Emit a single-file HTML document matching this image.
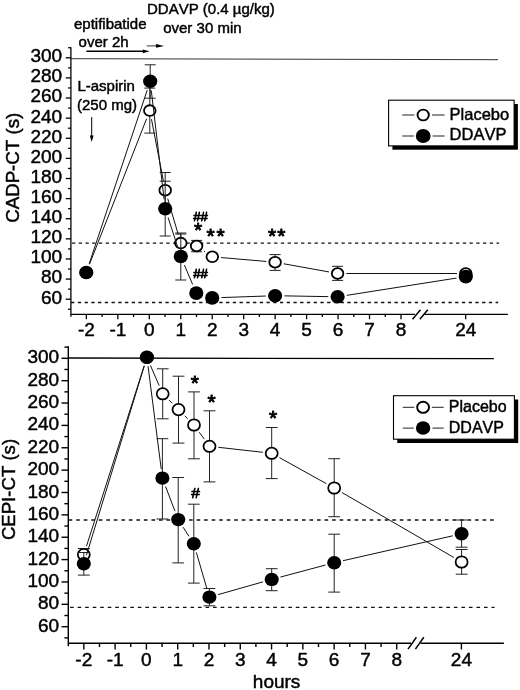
<!DOCTYPE html>
<html lang="en"><head><meta charset="utf-8"><title>CADP-CT and CEPI-CT after DDAVP vs placebo</title>
<style>html,body{margin:0;padding:0;background:#fff}svg{display:block;filter:blur(0.35px)}text{font-family:"Liberation Sans", sans-serif;fill:#000;stroke:#000;stroke-width:0.45px;stroke-linejoin:round;font-kerning:none}</style></head><body>
<svg width="520" height="690" viewBox="0 0 520 690">
<rect width="520" height="690" fill="#fff"/>
<line x1="70.90" y1="58.70" x2="498.00" y2="59.70" stroke="#333" stroke-width="1.0" />
<line x1="72.00" y1="243.10" x2="499.10" y2="243.10" stroke="#111" stroke-width="1.3" stroke-dasharray="3.3 3.4377" stroke-dashoffset="0"/>
<line x1="71.10" y1="302.50" x2="498.20" y2="302.50" stroke="#111" stroke-width="1.3" stroke-dasharray="3.3 3.4377" stroke-dashoffset="0"/>
<line x1="70.90" y1="47.15" x2="70.90" y2="316.70" stroke="#000" stroke-width="1.3" />
<line x1="70.90" y1="314.40" x2="414.80" y2="314.40" stroke="#000" stroke-width="1.3" />
<line x1="424.60" y1="314.40" x2="507.90" y2="314.40" stroke="#000" stroke-width="1.3" />
<line x1="412.50" y1="319.30" x2="420.50" y2="309.70" stroke="#000" stroke-width="1.5" />
<line x1="419.80" y1="319.30" x2="427.80" y2="309.70" stroke="#000" stroke-width="1.5" />
<line x1="68.10" y1="309.25" x2="70.90" y2="309.25" stroke="#000" stroke-width="1.3" />
<line x1="65.70" y1="299.19" x2="70.90" y2="299.19" stroke="#000" stroke-width="1.3" />
<line x1="68.10" y1="289.13" x2="70.90" y2="289.13" stroke="#000" stroke-width="1.3" />
<line x1="65.70" y1="279.08" x2="70.90" y2="279.08" stroke="#000" stroke-width="1.3" />
<line x1="68.10" y1="269.02" x2="70.90" y2="269.02" stroke="#000" stroke-width="1.3" />
<line x1="65.70" y1="258.96" x2="70.90" y2="258.96" stroke="#000" stroke-width="1.3" />
<line x1="68.10" y1="248.90" x2="70.90" y2="248.90" stroke="#000" stroke-width="1.3" />
<line x1="65.70" y1="238.84" x2="70.90" y2="238.84" stroke="#000" stroke-width="1.3" />
<line x1="68.10" y1="228.79" x2="70.90" y2="228.79" stroke="#000" stroke-width="1.3" />
<line x1="65.70" y1="218.73" x2="70.90" y2="218.73" stroke="#000" stroke-width="1.3" />
<line x1="68.10" y1="208.67" x2="70.90" y2="208.67" stroke="#000" stroke-width="1.3" />
<line x1="65.70" y1="198.61" x2="70.90" y2="198.61" stroke="#000" stroke-width="1.3" />
<line x1="68.10" y1="188.55" x2="70.90" y2="188.55" stroke="#000" stroke-width="1.3" />
<line x1="65.70" y1="178.50" x2="70.90" y2="178.50" stroke="#000" stroke-width="1.3" />
<line x1="68.10" y1="168.44" x2="70.90" y2="168.44" stroke="#000" stroke-width="1.3" />
<line x1="65.70" y1="158.38" x2="70.90" y2="158.38" stroke="#000" stroke-width="1.3" />
<line x1="68.10" y1="148.32" x2="70.90" y2="148.32" stroke="#000" stroke-width="1.3" />
<line x1="65.70" y1="138.26" x2="70.90" y2="138.26" stroke="#000" stroke-width="1.3" />
<line x1="68.10" y1="128.21" x2="70.90" y2="128.21" stroke="#000" stroke-width="1.3" />
<line x1="65.70" y1="118.15" x2="70.90" y2="118.15" stroke="#000" stroke-width="1.3" />
<line x1="68.10" y1="108.09" x2="70.90" y2="108.09" stroke="#000" stroke-width="1.3" />
<line x1="65.70" y1="98.03" x2="70.90" y2="98.03" stroke="#000" stroke-width="1.3" />
<line x1="68.10" y1="87.97" x2="70.90" y2="87.97" stroke="#000" stroke-width="1.3" />
<line x1="65.70" y1="77.92" x2="70.90" y2="77.92" stroke="#000" stroke-width="1.3" />
<line x1="68.10" y1="67.86" x2="70.90" y2="67.86" stroke="#000" stroke-width="1.3" />
<line x1="65.70" y1="57.80" x2="70.90" y2="57.80" stroke="#000" stroke-width="1.3" />
<line x1="68.10" y1="47.74" x2="70.90" y2="47.74" stroke="#000" stroke-width="1.3" />
<line x1="86.38" y1="314.40" x2="86.38" y2="319.20" stroke="#000" stroke-width="1.3" />
<line x1="102.11" y1="314.40" x2="102.11" y2="317.00" stroke="#000" stroke-width="1.3" />
<line x1="117.84" y1="314.40" x2="117.84" y2="319.20" stroke="#000" stroke-width="1.3" />
<line x1="133.57" y1="314.40" x2="133.57" y2="317.00" stroke="#000" stroke-width="1.3" />
<line x1="149.30" y1="314.40" x2="149.30" y2="319.20" stroke="#000" stroke-width="1.3" />
<line x1="165.03" y1="314.40" x2="165.03" y2="317.00" stroke="#000" stroke-width="1.3" />
<line x1="180.76" y1="314.40" x2="180.76" y2="319.20" stroke="#000" stroke-width="1.3" />
<line x1="196.49" y1="314.40" x2="196.49" y2="317.00" stroke="#000" stroke-width="1.3" />
<line x1="212.22" y1="314.40" x2="212.22" y2="319.20" stroke="#000" stroke-width="1.3" />
<line x1="227.95" y1="314.40" x2="227.95" y2="317.00" stroke="#000" stroke-width="1.3" />
<line x1="243.68" y1="314.40" x2="243.68" y2="319.20" stroke="#000" stroke-width="1.3" />
<line x1="259.41" y1="314.40" x2="259.41" y2="317.00" stroke="#000" stroke-width="1.3" />
<line x1="275.14" y1="314.40" x2="275.14" y2="319.20" stroke="#000" stroke-width="1.3" />
<line x1="290.87" y1="314.40" x2="290.87" y2="317.00" stroke="#000" stroke-width="1.3" />
<line x1="306.60" y1="314.40" x2="306.60" y2="319.20" stroke="#000" stroke-width="1.3" />
<line x1="322.33" y1="314.40" x2="322.33" y2="317.00" stroke="#000" stroke-width="1.3" />
<line x1="338.06" y1="314.40" x2="338.06" y2="319.20" stroke="#000" stroke-width="1.3" />
<line x1="353.79" y1="314.40" x2="353.79" y2="317.00" stroke="#000" stroke-width="1.3" />
<line x1="369.52" y1="314.40" x2="369.52" y2="319.20" stroke="#000" stroke-width="1.3" />
<line x1="385.25" y1="314.40" x2="385.25" y2="317.00" stroke="#000" stroke-width="1.3" />
<line x1="400.98" y1="314.40" x2="400.98" y2="319.20" stroke="#000" stroke-width="1.3" />
<line x1="465.70" y1="314.40" x2="465.70" y2="319.20" stroke="#000" stroke-width="1.3" />
<text x="62.20" y="303.59" font-size="19" text-anchor="end" >60</text>
<text x="62.20" y="283.48" font-size="19" text-anchor="end" >80</text>
<text x="62.20" y="263.36" font-size="19" text-anchor="end" >100</text>
<text x="62.20" y="243.24" font-size="19" text-anchor="end" >120</text>
<text x="62.20" y="223.13" font-size="19" text-anchor="end" >140</text>
<text x="62.20" y="203.01" font-size="19" text-anchor="end" >160</text>
<text x="62.20" y="182.90" font-size="19" text-anchor="end" >180</text>
<text x="62.20" y="162.78" font-size="19" text-anchor="end" >200</text>
<text x="62.20" y="142.66" font-size="19" text-anchor="end" >220</text>
<text x="62.20" y="122.55" font-size="19" text-anchor="end" >240</text>
<text x="62.20" y="102.43" font-size="19" text-anchor="end" >260</text>
<text x="62.20" y="82.32" font-size="19" text-anchor="end" >280</text>
<text x="62.20" y="62.20" font-size="19" text-anchor="end" >300</text>
<text x="86.38" y="336.00" font-size="19" text-anchor="middle" >-2</text>
<text x="117.84" y="336.00" font-size="19" text-anchor="middle" >-1</text>
<text x="149.30" y="336.00" font-size="19" text-anchor="middle" >0</text>
<text x="180.76" y="336.00" font-size="19" text-anchor="middle" >1</text>
<text x="212.22" y="336.00" font-size="19" text-anchor="middle" >2</text>
<text x="243.68" y="336.00" font-size="19" text-anchor="middle" >3</text>
<text x="275.14" y="336.00" font-size="19" text-anchor="middle" >4</text>
<text x="306.60" y="336.00" font-size="19" text-anchor="middle" >5</text>
<text x="338.06" y="336.00" font-size="19" text-anchor="middle" >6</text>
<text x="369.52" y="336.00" font-size="19" text-anchor="middle" >7</text>
<text x="400.98" y="336.00" font-size="19" text-anchor="middle" >8</text>
<text x="465.70" y="336.00" font-size="19" text-anchor="middle" >24</text>
<line x1="149.80" y1="88.10" x2="149.80" y2="133.10" stroke="#222" stroke-width="1.0" />
<line x1="144.30" y1="88.10" x2="155.30" y2="88.10" stroke="#222" stroke-width="1.0" />
<line x1="144.30" y1="133.10" x2="155.30" y2="133.10" stroke="#222" stroke-width="1.0" />
<line x1="165.20" y1="172.50" x2="165.20" y2="207.90" stroke="#222" stroke-width="1.0" />
<line x1="159.70" y1="172.50" x2="170.70" y2="172.50" stroke="#222" stroke-width="1.0" />
<line x1="159.70" y1="207.90" x2="170.70" y2="207.90" stroke="#222" stroke-width="1.0" />
<line x1="180.80" y1="234.00" x2="180.80" y2="252.20" stroke="#222" stroke-width="1.0" />
<line x1="175.30" y1="234.00" x2="186.30" y2="234.00" stroke="#222" stroke-width="1.0" />
<line x1="175.30" y1="252.20" x2="186.30" y2="252.20" stroke="#222" stroke-width="1.0" />
<line x1="196.60" y1="240.40" x2="196.60" y2="251.80" stroke="#222" stroke-width="1.0" />
<line x1="191.10" y1="240.40" x2="202.10" y2="240.40" stroke="#222" stroke-width="1.0" />
<line x1="191.10" y1="251.80" x2="202.10" y2="251.80" stroke="#222" stroke-width="1.0" />
<line x1="275.10" y1="254.60" x2="275.10" y2="270.40" stroke="#222" stroke-width="1.0" />
<line x1="269.60" y1="254.60" x2="280.60" y2="254.60" stroke="#222" stroke-width="1.0" />
<line x1="269.60" y1="270.40" x2="280.60" y2="270.40" stroke="#222" stroke-width="1.0" />
<line x1="337.60" y1="266.30" x2="337.60" y2="280.40" stroke="#222" stroke-width="1.0" />
<line x1="332.10" y1="266.30" x2="343.10" y2="266.30" stroke="#222" stroke-width="1.0" />
<line x1="332.10" y1="280.40" x2="343.10" y2="280.40" stroke="#222" stroke-width="1.0" />
<line x1="89.47" y1="264.31" x2="146.58" y2="118.79" stroke="#111" stroke-width="1.0" />
<line x1="151.47" y1="119.24" x2="163.53" y2="181.56" stroke="#111" stroke-width="1.0" />
<line x1="167.69" y1="198.64" x2="178.31" y2="234.66" stroke="#111" stroke-width="1.0" />
<line x1="203.85" y1="250.99" x2="205.05" y2="251.81" stroke="#111" stroke-width="1.0" />
<line x1="221.07" y1="257.55" x2="266.33" y2="261.45" stroke="#111" stroke-width="1.0" />
<line x1="283.76" y1="263.77" x2="328.94" y2="271.93" stroke="#111" stroke-width="1.0" />
<line x1="346.40" y1="273.50" x2="457.00" y2="273.50" stroke="#111" stroke-width="1.0" />
<ellipse cx="86.25" cy="272.50" rx="5.8" ry="5.35" fill="#fff" stroke="#000" stroke-width="1.8"/>
<ellipse cx="149.80" cy="110.60" rx="5.8" ry="5.35" fill="#fff" stroke="#000" stroke-width="1.8"/>
<ellipse cx="165.20" cy="190.20" rx="5.8" ry="5.35" fill="#fff" stroke="#000" stroke-width="1.8"/>
<ellipse cx="180.80" cy="243.10" rx="5.8" ry="5.35" fill="#fff" stroke="#000" stroke-width="1.8"/>
<ellipse cx="196.60" cy="246.00" rx="5.8" ry="5.35" fill="#fff" stroke="#000" stroke-width="1.8"/>
<ellipse cx="212.30" cy="256.80" rx="5.8" ry="5.35" fill="#fff" stroke="#000" stroke-width="1.8"/>
<ellipse cx="275.10" cy="262.20" rx="5.8" ry="5.35" fill="#fff" stroke="#000" stroke-width="1.8"/>
<ellipse cx="337.60" cy="273.50" rx="5.8" ry="5.35" fill="#fff" stroke="#000" stroke-width="1.8"/>
<ellipse cx="465.80" cy="273.50" rx="5.8" ry="5.35" fill="#fff" stroke="#000" stroke-width="1.8"/>
<line x1="150.20" y1="64.80" x2="150.20" y2="98.20" stroke="#222" stroke-width="1.0" />
<line x1="144.70" y1="64.80" x2="155.70" y2="64.80" stroke="#222" stroke-width="1.0" />
<line x1="144.70" y1="98.20" x2="155.70" y2="98.20" stroke="#222" stroke-width="1.0" />
<line x1="165.20" y1="181.20" x2="165.20" y2="236.00" stroke="#222" stroke-width="1.0" />
<line x1="159.70" y1="181.20" x2="170.70" y2="181.20" stroke="#222" stroke-width="1.0" />
<line x1="159.70" y1="236.00" x2="170.70" y2="236.00" stroke="#222" stroke-width="1.0" />
<line x1="180.80" y1="233.00" x2="180.80" y2="280.00" stroke="#222" stroke-width="1.0" />
<line x1="175.30" y1="233.00" x2="186.30" y2="233.00" stroke="#222" stroke-width="1.0" />
<line x1="175.30" y1="280.00" x2="186.30" y2="280.00" stroke="#222" stroke-width="1.0" />
<line x1="89.20" y1="263.68" x2="147.25" y2="90.02" stroke="#111" stroke-width="1.0" />
<line x1="151.29" y1="90.44" x2="164.11" y2="199.46" stroke="#111" stroke-width="1.0" />
<line x1="168.09" y1="217.54" x2="177.91" y2="247.66" stroke="#111" stroke-width="1.0" />
<line x1="184.43" y1="265.06" x2="192.67" y2="284.54" stroke="#111" stroke-width="1.0" />
<line x1="221.49" y1="297.57" x2="265.81" y2="296.03" stroke="#111" stroke-width="1.0" />
<line x1="284.40" y1="295.86" x2="328.30" y2="296.64" stroke="#111" stroke-width="1.0" />
<line x1="346.79" y1="295.35" x2="456.61" y2="278.05" stroke="#111" stroke-width="1.0" />
<ellipse cx="86.25" cy="272.50" rx="7.1" ry="6.8" fill="#000"/>
<ellipse cx="150.20" cy="81.20" rx="7.1" ry="6.8" fill="#000"/>
<ellipse cx="165.20" cy="208.70" rx="7.1" ry="6.8" fill="#000"/>
<ellipse cx="180.80" cy="256.50" rx="7.1" ry="6.8" fill="#000"/>
<ellipse cx="196.30" cy="293.10" rx="7.1" ry="6.8" fill="#000"/>
<ellipse cx="212.20" cy="297.90" rx="7.1" ry="6.8" fill="#000"/>
<ellipse cx="275.10" cy="295.70" rx="7.1" ry="6.8" fill="#000"/>
<ellipse cx="337.60" cy="296.80" rx="7.1" ry="6.8" fill="#000"/>
<ellipse cx="465.80" cy="276.60" rx="7.1" ry="6.8" fill="#000"/>
<text x="147.00" y="14.00" font-size="15" text-anchor="start" >DDAVP (0.4 µg/kg)</text>
<text x="163.20" y="32.80" font-size="15" text-anchor="start" >over 30 min</text>
<text x="74.00" y="28.60" font-size="15" text-anchor="start" >eptifibatide</text>
<text x="78.60" y="47.00" font-size="15" text-anchor="start" >over 2h</text>
<text x="77.40" y="90.80" font-size="15" text-anchor="start" >L-aspirin</text>
<text x="77.00" y="109.80" font-size="15" text-anchor="start" >(250 mg)</text>
<line x1="86.40" y1="51.30" x2="144.50" y2="51.30" stroke="#000" stroke-width="1.45" />
<polygon points="149.6,51.3 142.8,49.4 142.8,53.2" fill="#000"/>
<line x1="146.80" y1="45.90" x2="157.50" y2="45.90" stroke="#333" stroke-width="1.0" />
<polygon points="164.0,45.9 156.0,44.1 156.0,47.7" fill="#000"/>
<line x1="91.70" y1="117.00" x2="91.70" y2="137.00" stroke="#000" stroke-width="1.0" />
<polygon points="91.7,142.1 89.8,135.4 93.6,135.4" fill="#000"/>
<text x="200.60" y="220.60" font-size="13.2" text-anchor="middle" style="stroke-width:0.8px">##</text>
<text x="200.60" y="278.10" font-size="13.2" text-anchor="middle" style="stroke-width:0.8px">##</text>
<text y="236.80" font-size="21" text-anchor="middle" style="stroke-width:0.9px"><tspan x="198.00">*</tspan></text>
<text y="242.80" font-size="21" text-anchor="middle" style="stroke-width:0.9px"><tspan x="210.60">*</tspan><tspan x="220.50">*</tspan></text>
<text y="243.30" font-size="21" text-anchor="middle" style="stroke-width:0.9px"><tspan x="272.10">*</tspan><tspan x="281.40">*</tspan></text>
<rect x="392.40" y="104.00" width="125.50" height="45.70" fill="#000"/>
<rect x="388.60" y="100.20" width="125.50" height="45.70" fill="#fff" stroke="#000" stroke-width="1.1"/>
<line x1="402.30" y1="115.00" x2="414.40" y2="115.00" stroke="#222" stroke-width="1.0" />
<line x1="432.00" y1="115.00" x2="444.60" y2="115.00" stroke="#222" stroke-width="1.0" />
<line x1="402.30" y1="136.00" x2="413.80" y2="136.00" stroke="#222" stroke-width="1.0" />
<line x1="432.60" y1="136.00" x2="444.60" y2="136.00" stroke="#222" stroke-width="1.0" />
<ellipse cx="423.20" cy="115.00" rx="5.65" ry="5.4" fill="#fff" stroke="#000" stroke-width="1.9"/>
<ellipse cx="423.20" cy="136.00" rx="7.4" ry="7.0" fill="#000"/>
<text x="449.60" y="119.60" font-size="16.5" text-anchor="start" >Placebo</text>
<text x="449.60" y="139.90" font-size="16.5" text-anchor="start" >DDAVP</text>
<text transform="translate(18.5,167.8) rotate(-90)" font-size="18.7" text-anchor="middle">CADP-CT (s)</text>
<line x1="68.30" y1="358.00" x2="493.80" y2="358.70" stroke="#000" stroke-width="1.3" />
<line x1="68.70" y1="520.00" x2="494.00" y2="520.00" stroke="#111" stroke-width="1.3" stroke-dasharray="3.6 3.925" stroke-dashoffset="0"/>
<line x1="70.10" y1="607.30" x2="494.60" y2="607.30" stroke="#111" stroke-width="1.3" stroke-dasharray="3.6 3.925" stroke-dashoffset="0"/>
<line x1="68.30" y1="346.30" x2="68.30" y2="646.20" stroke="#000" stroke-width="1.4" />
<line x1="68.30" y1="643.20" x2="411.00" y2="643.20" stroke="#000" stroke-width="1.4" />
<line x1="420.50" y1="643.20" x2="503.90" y2="643.20" stroke="#000" stroke-width="1.4" />
<line x1="408.00" y1="649.10" x2="416.40" y2="637.20" stroke="#000" stroke-width="1.5" />
<line x1="415.40" y1="649.10" x2="423.80" y2="637.20" stroke="#000" stroke-width="1.5" />
<line x1="64.40" y1="637.88" x2="68.30" y2="637.88" stroke="#000" stroke-width="1.4" />
<line x1="61.50" y1="626.69" x2="68.30" y2="626.69" stroke="#000" stroke-width="1.4" />
<line x1="64.40" y1="615.51" x2="68.30" y2="615.51" stroke="#000" stroke-width="1.4" />
<line x1="61.50" y1="604.33" x2="68.30" y2="604.33" stroke="#000" stroke-width="1.4" />
<line x1="64.40" y1="593.14" x2="68.30" y2="593.14" stroke="#000" stroke-width="1.4" />
<line x1="61.50" y1="581.96" x2="68.30" y2="581.96" stroke="#000" stroke-width="1.4" />
<line x1="64.40" y1="570.78" x2="68.30" y2="570.78" stroke="#000" stroke-width="1.4" />
<line x1="61.50" y1="559.59" x2="68.30" y2="559.59" stroke="#000" stroke-width="1.4" />
<line x1="64.40" y1="548.41" x2="68.30" y2="548.41" stroke="#000" stroke-width="1.4" />
<line x1="61.50" y1="537.23" x2="68.30" y2="537.23" stroke="#000" stroke-width="1.4" />
<line x1="64.40" y1="526.05" x2="68.30" y2="526.05" stroke="#000" stroke-width="1.4" />
<line x1="61.50" y1="514.86" x2="68.30" y2="514.86" stroke="#000" stroke-width="1.4" />
<line x1="64.40" y1="503.68" x2="68.30" y2="503.68" stroke="#000" stroke-width="1.4" />
<line x1="61.50" y1="492.50" x2="68.30" y2="492.50" stroke="#000" stroke-width="1.4" />
<line x1="64.40" y1="481.31" x2="68.30" y2="481.31" stroke="#000" stroke-width="1.4" />
<line x1="61.50" y1="470.13" x2="68.30" y2="470.13" stroke="#000" stroke-width="1.4" />
<line x1="64.40" y1="458.95" x2="68.30" y2="458.95" stroke="#000" stroke-width="1.4" />
<line x1="61.50" y1="447.76" x2="68.30" y2="447.76" stroke="#000" stroke-width="1.4" />
<line x1="64.40" y1="436.58" x2="68.30" y2="436.58" stroke="#000" stroke-width="1.4" />
<line x1="61.50" y1="425.40" x2="68.30" y2="425.40" stroke="#000" stroke-width="1.4" />
<line x1="64.40" y1="414.22" x2="68.30" y2="414.22" stroke="#000" stroke-width="1.4" />
<line x1="61.50" y1="403.03" x2="68.30" y2="403.03" stroke="#000" stroke-width="1.4" />
<line x1="64.40" y1="391.85" x2="68.30" y2="391.85" stroke="#000" stroke-width="1.4" />
<line x1="61.50" y1="380.67" x2="68.30" y2="380.67" stroke="#000" stroke-width="1.4" />
<line x1="64.40" y1="369.48" x2="68.30" y2="369.48" stroke="#000" stroke-width="1.4" />
<line x1="61.50" y1="358.30" x2="68.30" y2="358.30" stroke="#000" stroke-width="1.4" />
<line x1="64.40" y1="347.12" x2="68.30" y2="347.12" stroke="#000" stroke-width="1.4" />
<line x1="83.82" y1="643.20" x2="83.82" y2="649.50" stroke="#000" stroke-width="1.4" />
<line x1="99.47" y1="643.20" x2="99.47" y2="647.00" stroke="#000" stroke-width="1.4" />
<line x1="115.11" y1="643.20" x2="115.11" y2="649.50" stroke="#000" stroke-width="1.4" />
<line x1="130.75" y1="643.20" x2="130.75" y2="647.00" stroke="#000" stroke-width="1.4" />
<line x1="146.40" y1="643.20" x2="146.40" y2="649.50" stroke="#000" stroke-width="1.4" />
<line x1="162.05" y1="643.20" x2="162.05" y2="647.00" stroke="#000" stroke-width="1.4" />
<line x1="177.69" y1="643.20" x2="177.69" y2="649.50" stroke="#000" stroke-width="1.4" />
<line x1="193.34" y1="643.20" x2="193.34" y2="647.00" stroke="#000" stroke-width="1.4" />
<line x1="208.98" y1="643.20" x2="208.98" y2="649.50" stroke="#000" stroke-width="1.4" />
<line x1="224.62" y1="643.20" x2="224.62" y2="647.00" stroke="#000" stroke-width="1.4" />
<line x1="240.27" y1="643.20" x2="240.27" y2="649.50" stroke="#000" stroke-width="1.4" />
<line x1="255.92" y1="643.20" x2="255.92" y2="647.00" stroke="#000" stroke-width="1.4" />
<line x1="271.56" y1="643.20" x2="271.56" y2="649.50" stroke="#000" stroke-width="1.4" />
<line x1="287.21" y1="643.20" x2="287.21" y2="647.00" stroke="#000" stroke-width="1.4" />
<line x1="302.85" y1="643.20" x2="302.85" y2="649.50" stroke="#000" stroke-width="1.4" />
<line x1="318.50" y1="643.20" x2="318.50" y2="647.00" stroke="#000" stroke-width="1.4" />
<line x1="334.14" y1="643.20" x2="334.14" y2="649.50" stroke="#000" stroke-width="1.4" />
<line x1="349.78" y1="643.20" x2="349.78" y2="647.00" stroke="#000" stroke-width="1.4" />
<line x1="365.43" y1="643.20" x2="365.43" y2="649.50" stroke="#000" stroke-width="1.4" />
<line x1="381.07" y1="643.20" x2="381.07" y2="647.00" stroke="#000" stroke-width="1.4" />
<line x1="396.72" y1="643.20" x2="396.72" y2="649.50" stroke="#000" stroke-width="1.4" />
<line x1="461.40" y1="643.20" x2="461.40" y2="649.50" stroke="#000" stroke-width="1.4" />
<text x="59.20" y="631.69" font-size="19" text-anchor="end" >60</text>
<text x="59.20" y="609.33" font-size="19" text-anchor="end" >80</text>
<text x="59.20" y="586.96" font-size="19" text-anchor="end" >100</text>
<text x="59.20" y="564.59" font-size="19" text-anchor="end" >120</text>
<text x="59.20" y="542.23" font-size="19" text-anchor="end" >140</text>
<text x="59.20" y="519.86" font-size="19" text-anchor="end" >160</text>
<text x="59.20" y="497.50" font-size="19" text-anchor="end" >180</text>
<text x="59.20" y="475.13" font-size="19" text-anchor="end" >200</text>
<text x="59.20" y="452.76" font-size="19" text-anchor="end" >220</text>
<text x="59.20" y="430.40" font-size="19" text-anchor="end" >240</text>
<text x="59.20" y="408.03" font-size="19" text-anchor="end" >260</text>
<text x="59.20" y="385.67" font-size="19" text-anchor="end" >280</text>
<text x="59.20" y="363.30" font-size="19" text-anchor="end" >300</text>
<text x="83.82" y="666.40" font-size="19" text-anchor="middle" >-2</text>
<text x="115.11" y="666.40" font-size="19" text-anchor="middle" >-1</text>
<text x="146.40" y="666.40" font-size="19" text-anchor="middle" >0</text>
<text x="177.69" y="666.40" font-size="19" text-anchor="middle" >1</text>
<text x="208.98" y="666.40" font-size="19" text-anchor="middle" >2</text>
<text x="240.27" y="666.40" font-size="19" text-anchor="middle" >3</text>
<text x="271.56" y="666.40" font-size="19" text-anchor="middle" >4</text>
<text x="302.85" y="666.40" font-size="19" text-anchor="middle" >5</text>
<text x="334.14" y="666.40" font-size="19" text-anchor="middle" >6</text>
<text x="365.43" y="666.40" font-size="19" text-anchor="middle" >7</text>
<text x="396.72" y="666.40" font-size="19" text-anchor="middle" >8</text>
<text x="461.40" y="666.40" font-size="19" text-anchor="middle" >24</text>
<line x1="83.80" y1="548.50" x2="83.80" y2="560.70" stroke="#222" stroke-width="1.0" />
<line x1="77.90" y1="548.50" x2="89.70" y2="548.50" stroke="#222" stroke-width="1.0" />
<line x1="77.90" y1="560.70" x2="89.70" y2="560.70" stroke="#222" stroke-width="1.0" />
<line x1="162.70" y1="368.80" x2="162.70" y2="418.80" stroke="#222" stroke-width="1.0" />
<line x1="156.80" y1="368.80" x2="168.60" y2="368.80" stroke="#222" stroke-width="1.0" />
<line x1="156.80" y1="418.80" x2="168.60" y2="418.80" stroke="#222" stroke-width="1.0" />
<line x1="178.50" y1="376.20" x2="178.50" y2="443.10" stroke="#222" stroke-width="1.0" />
<line x1="172.60" y1="376.20" x2="184.40" y2="376.20" stroke="#222" stroke-width="1.0" />
<line x1="172.60" y1="443.10" x2="184.40" y2="443.10" stroke="#222" stroke-width="1.0" />
<line x1="194.00" y1="391.90" x2="194.00" y2="458.80" stroke="#222" stroke-width="1.0" />
<line x1="188.10" y1="391.90" x2="199.90" y2="391.90" stroke="#222" stroke-width="1.0" />
<line x1="188.10" y1="458.80" x2="199.90" y2="458.80" stroke="#222" stroke-width="1.0" />
<line x1="209.50" y1="410.80" x2="209.50" y2="481.90" stroke="#222" stroke-width="1.0" />
<line x1="203.60" y1="410.80" x2="215.40" y2="410.80" stroke="#222" stroke-width="1.0" />
<line x1="203.60" y1="481.90" x2="215.40" y2="481.90" stroke="#222" stroke-width="1.0" />
<line x1="271.70" y1="427.50" x2="271.70" y2="478.60" stroke="#222" stroke-width="1.0" />
<line x1="265.80" y1="427.50" x2="277.60" y2="427.50" stroke="#222" stroke-width="1.0" />
<line x1="265.80" y1="478.60" x2="277.60" y2="478.60" stroke="#222" stroke-width="1.0" />
<line x1="334.20" y1="458.70" x2="334.20" y2="516.70" stroke="#222" stroke-width="1.0" />
<line x1="328.30" y1="458.70" x2="340.10" y2="458.70" stroke="#222" stroke-width="1.0" />
<line x1="328.30" y1="516.70" x2="340.10" y2="516.70" stroke="#222" stroke-width="1.0" />
<line x1="461.60" y1="549.50" x2="461.60" y2="574.20" stroke="#222" stroke-width="1.0" />
<line x1="455.70" y1="549.50" x2="467.50" y2="549.50" stroke="#222" stroke-width="1.0" />
<line x1="455.70" y1="574.20" x2="467.50" y2="574.20" stroke="#222" stroke-width="1.0" />
<line x1="86.51" y1="546.12" x2="144.19" y2="365.78" stroke="#111" stroke-width="1.0" />
<line x1="150.44" y1="365.47" x2="159.16" y2="385.63" stroke="#111" stroke-width="1.0" />
<line x1="168.99" y1="400.09" x2="172.21" y2="403.31" stroke="#111" stroke-width="1.0" />
<line x1="184.81" y1="415.87" x2="187.69" y2="418.73" stroke="#111" stroke-width="1.0" />
<line x1="199.24" y1="432.20" x2="204.26" y2="439.10" stroke="#111" stroke-width="1.0" />
<line x1="218.34" y1="447.30" x2="262.86" y2="452.30" stroke="#111" stroke-width="1.0" />
<line x1="279.48" y1="457.62" x2="326.42" y2="483.68" stroke="#111" stroke-width="1.0" />
<line x1="341.90" y1="492.47" x2="453.90" y2="557.53" stroke="#111" stroke-width="1.0" />
<ellipse cx="83.80" cy="554.60" rx="6.0" ry="5.7" fill="#fff" stroke="#000" stroke-width="1.75"/>
<ellipse cx="146.90" cy="357.30" rx="6.0" ry="5.7" fill="#fff" stroke="#000" stroke-width="1.75"/>
<ellipse cx="162.70" cy="393.80" rx="6.0" ry="5.7" fill="#fff" stroke="#000" stroke-width="1.75"/>
<ellipse cx="178.50" cy="409.60" rx="6.0" ry="5.7" fill="#fff" stroke="#000" stroke-width="1.75"/>
<ellipse cx="194.00" cy="425.00" rx="6.0" ry="5.7" fill="#fff" stroke="#000" stroke-width="1.75"/>
<ellipse cx="209.50" cy="446.30" rx="6.0" ry="5.7" fill="#fff" stroke="#000" stroke-width="1.75"/>
<ellipse cx="271.70" cy="453.30" rx="6.0" ry="5.7" fill="#fff" stroke="#000" stroke-width="1.75"/>
<ellipse cx="334.20" cy="488.00" rx="6.0" ry="5.7" fill="#fff" stroke="#000" stroke-width="1.75"/>
<ellipse cx="461.60" cy="562.00" rx="6.0" ry="5.7" fill="#fff" stroke="#000" stroke-width="1.75"/>
<line x1="83.80" y1="552.50" x2="83.80" y2="575.10" stroke="#222" stroke-width="1.0" />
<line x1="77.90" y1="552.50" x2="89.70" y2="552.50" stroke="#222" stroke-width="1.0" />
<line x1="77.90" y1="575.10" x2="89.70" y2="575.10" stroke="#222" stroke-width="1.0" />
<line x1="162.40" y1="438.70" x2="162.40" y2="519.00" stroke="#222" stroke-width="1.0" />
<line x1="156.50" y1="438.70" x2="168.30" y2="438.70" stroke="#222" stroke-width="1.0" />
<line x1="156.50" y1="519.00" x2="168.30" y2="519.00" stroke="#222" stroke-width="1.0" />
<line x1="178.20" y1="477.50" x2="178.20" y2="562.90" stroke="#222" stroke-width="1.0" />
<line x1="172.30" y1="477.50" x2="184.10" y2="477.50" stroke="#222" stroke-width="1.0" />
<line x1="172.30" y1="562.90" x2="184.10" y2="562.90" stroke="#222" stroke-width="1.0" />
<line x1="193.80" y1="504.20" x2="193.80" y2="583.10" stroke="#222" stroke-width="1.0" />
<line x1="187.90" y1="504.20" x2="199.70" y2="504.20" stroke="#222" stroke-width="1.0" />
<line x1="187.90" y1="583.10" x2="199.70" y2="583.10" stroke="#222" stroke-width="1.0" />
<line x1="209.40" y1="588.50" x2="209.40" y2="605.80" stroke="#222" stroke-width="1.0" />
<line x1="203.50" y1="588.50" x2="215.30" y2="588.50" stroke="#222" stroke-width="1.0" />
<line x1="203.50" y1="605.80" x2="215.30" y2="605.80" stroke="#222" stroke-width="1.0" />
<line x1="271.70" y1="568.70" x2="271.70" y2="590.70" stroke="#222" stroke-width="1.0" />
<line x1="265.80" y1="568.70" x2="277.60" y2="568.70" stroke="#222" stroke-width="1.0" />
<line x1="265.80" y1="590.70" x2="277.60" y2="590.70" stroke="#222" stroke-width="1.0" />
<line x1="334.20" y1="534.20" x2="334.20" y2="592.10" stroke="#222" stroke-width="1.0" />
<line x1="328.30" y1="534.20" x2="340.10" y2="534.20" stroke="#222" stroke-width="1.0" />
<line x1="328.30" y1="592.10" x2="340.10" y2="592.10" stroke="#222" stroke-width="1.0" />
<line x1="461.60" y1="520.00" x2="461.60" y2="547.20" stroke="#222" stroke-width="1.0" />
<line x1="455.70" y1="520.00" x2="467.50" y2="520.00" stroke="#222" stroke-width="1.0" />
<line x1="455.70" y1="547.20" x2="467.50" y2="547.20" stroke="#222" stroke-width="1.0" />
<line x1="86.43" y1="555.19" x2="144.27" y2="365.91" stroke="#111" stroke-width="1.0" />
<line x1="148.05" y1="366.23" x2="161.25" y2="469.17" stroke="#111" stroke-width="1.0" />
<line x1="165.60" y1="486.51" x2="175.00" y2="511.19" stroke="#111" stroke-width="1.0" />
<line x1="183.08" y1="527.16" x2="188.92" y2="536.24" stroke="#111" stroke-width="1.0" />
<line x1="196.33" y1="552.44" x2="206.87" y2="588.46" stroke="#111" stroke-width="1.0" />
<line x1="218.06" y1="594.64" x2="263.04" y2="581.86" stroke="#111" stroke-width="1.0" />
<line x1="280.39" y1="577.08" x2="325.51" y2="565.02" stroke="#111" stroke-width="1.0" />
<line x1="342.98" y1="560.71" x2="452.82" y2="535.79" stroke="#111" stroke-width="1.0" />
<ellipse cx="83.80" cy="563.80" rx="7.05" ry="6.7" fill="#000"/>
<ellipse cx="146.90" cy="357.30" rx="7.05" ry="6.7" fill="#000"/>
<ellipse cx="162.40" cy="478.10" rx="7.05" ry="6.7" fill="#000"/>
<ellipse cx="178.20" cy="519.60" rx="7.05" ry="6.7" fill="#000"/>
<ellipse cx="193.80" cy="543.80" rx="7.05" ry="6.7" fill="#000"/>
<ellipse cx="209.40" cy="597.10" rx="7.05" ry="6.7" fill="#000"/>
<ellipse cx="271.70" cy="579.40" rx="7.05" ry="6.7" fill="#000"/>
<ellipse cx="334.20" cy="562.70" rx="7.05" ry="6.7" fill="#000"/>
<ellipse cx="461.60" cy="533.80" rx="7.05" ry="6.7" fill="#000"/>
<text y="390.40" font-size="21" text-anchor="middle" style="stroke-width:0.9px"><tspan x="194.90">*</tspan></text>
<text y="409.00" font-size="21" text-anchor="middle" style="stroke-width:0.9px"><tspan x="211.50">*</tspan></text>
<text y="424.60" font-size="21" text-anchor="middle" style="stroke-width:0.9px"><tspan x="273.10">*</tspan></text>
<text x="195.60" y="497.80" font-size="15.5" text-anchor="middle" style="stroke-width:0.75px">#</text>
<rect x="397.30" y="399.50" width="120.90" height="43.50" fill="#000"/>
<rect x="393.50" y="395.70" width="120.90" height="43.50" fill="#fff" stroke="#000" stroke-width="1.1"/>
<line x1="402.80" y1="407.30" x2="414.30" y2="407.30" stroke="#222" stroke-width="1.0" />
<line x1="431.90" y1="407.30" x2="443.70" y2="407.30" stroke="#222" stroke-width="1.0" />
<line x1="402.80" y1="428.10" x2="413.70" y2="428.10" stroke="#222" stroke-width="1.0" />
<line x1="432.50" y1="428.10" x2="443.70" y2="428.10" stroke="#222" stroke-width="1.0" />
<ellipse cx="423.10" cy="407.30" rx="5.95" ry="5.55" fill="#fff" stroke="#000" stroke-width="1.9"/>
<ellipse cx="423.10" cy="428.10" rx="7.2" ry="6.75" fill="#000"/>
<text x="448.80" y="412.30" font-size="16.0" text-anchor="start" >Placebo</text>
<text x="448.80" y="432.50" font-size="16.0" text-anchor="start" >DDAVP</text>
<text transform="translate(15.4,489.5) rotate(-90)" font-size="18.6" text-anchor="middle">CEPI-CT (s)</text>
<text x="276.60" y="688.20" font-size="19" text-anchor="middle" >hours</text>
</svg></body></html>
